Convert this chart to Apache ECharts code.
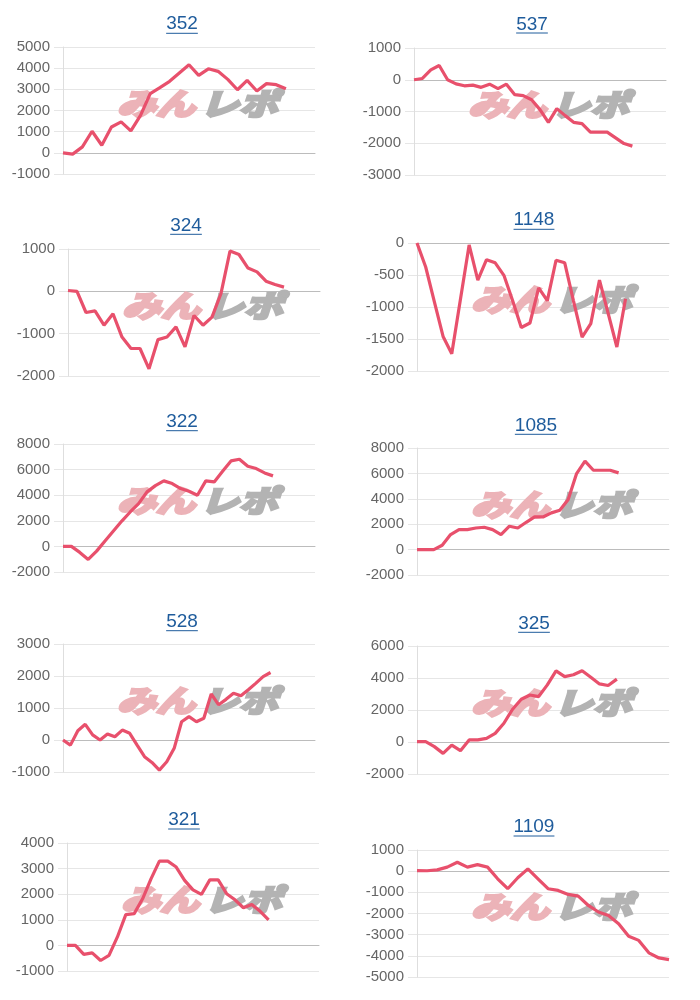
<!DOCTYPE html>
<html><head><meta charset="utf-8">
<script src="https://cdn.jsdelivr.net/npm/echarts@6/dist/echarts.min.js"></script>
<style>html,body{margin:0;padding:0;background:#fff}#c{width:700px;height:1000px}</style>
</head><body><div id="c"></div>
<script>
// ---- data ----
const titles = ['352','537','324','1148','322','1085','528','325','321','1109'];
const catCounts = [27,31,29,30,31,31,35,30,31,26];
const s352  = [0,-60,280,1020,360,1220,1460,1040,1770,2800,3080,3380,3770,4160,3660,3970,3850,3470,2980,3420,2920,3270,3220,3030];
const s537  = [0,40,310,450,0,-130,-190,-170,-240,-140,-280,-140,-470,-500,-630,-940,-1340,-910,-1130,-1340,-1380,-1650,-1650,-1650,-1830,-2010,-2090];
const s324  = [20,0,-500,-460,-800,-530,-1080,-1350,-1350,-1830,-1140,-1080,-840,-1310,-570,-800,-610,-50,950,870,550,460,240,160,100];
const s1148 = [0,-375,-920,-1460,-1730,-880,-30,-580,-260,-310,-505,-900,-1320,-1250,-700,-900,-270,-310,-900,-1470,-1260,-580,-1100,-1625,-870];
const s322  = [0,0,-470,-1020,-370,420,1200,1980,2690,3340,4260,4750,5120,4910,4520,4310,4000,5120,5040,5870,6680,6810,6260,6080,5740,5510];
const s1085 = [0,0,0,340,1180,1575,1575,1700,1760,1575,1180,1840,1700,2150,2570,2570,2890,3100,3940,5990,6960,6250,6250,6250,6040];
const s528  = [0,-160,290,490,160,0,190,100,310,210,-160,-520,-700,-940,-680,-260,570,730,570,680,1440,1100,1270,1460,1380,1570,1770,1980,2110];
const s325  = [20,20,-290,-710,-190,-540,130,130,230,540,1170,2050,2670,2940,2840,3570,4450,4090,4200,4450,4050,3630,3530,3930];
const s321  = [0,0,-350,-290,-590,-390,330,1200,1240,1820,2600,3290,3290,3060,2540,2170,1990,2560,2560,2020,1780,1470,1600,1330,1000];
const s1109 = [30,20,60,190,420,190,310,190,-360,-830,-310,110,-360,-830,-910,-1100,-1180,-1620,-1930,-2090,-2480,-3080,-3270,-3860,-4100,-4180];
const seriesData = [s352,s537,s324,s1148,s322,s1085,s528,s325,s321,s1109];
const yMin  = [-1000,-3000,-2000,-2000,-2000,-2000,-1000,-2000,-1000,-5000];
const yMax  = [5000,1000,1000,0,8000,8000,3000,6000,4000,1000];
const yStep = [1000,1000,1000,500,2000,2000,1000,2000,1000,1000];
const watermarkA = 'みん';
const watermarkB = 'レポ';

// ---- layout ----
const gridLeft = [63,414,68,417,63,417,63,417,67,417];
const gridTop  = [47,48,249,243,444,448,644,646,843,850];
const gridH    = [127,127,127,128,128,127,128,128,128,127];
const gridW = 252;
const titleCX = [182,532,186,534,182,536,182,534,184,534];
const titleCY = [24,24.5,225.7,220,422,425.8,622,623.3,820,827];
const underY  = [33.3,33,234.3,229.3,430.7,434.3,630.7,632.3,829,836];

const FONT = '"Liberation Sans", Arial, sans-serif';
const LINE_COLOR = '#e8506c';
const TITLE_COLOR = '#1f5c9c';

const cv = document.createElement('canvas').getContext('2d');
cv.font = '19px ' + FONT;

const grid = [], xAxis = [], yAxis = [], series = [], graphic = [];
for (let i = 0; i < 10; i++) {
  grid.push({left: gridLeft[i], top: gridTop[i], width: gridW, height: gridH[i], containLabel: false});
  const cats = [];
  for (let k = 0; k < catCounts[i]; k++) cats.push(String(k + 1));
  xAxis.push({
    gridIndex: i, type: 'category', data: cats, boundaryGap: false,
    axisLabel: {show: false}, axisTick: {show: false}, splitLine: {show: false},
    axisLine: {show: true, onZero: true, lineStyle: {color: '#bcbcbc', width: 1}}
  });
  yAxis.push({
    gridIndex: i, type: 'value', min: yMin[i], max: yMax[i], interval: yStep[i],
    axisLine: {show: true, lineStyle: {color: '#dedede', width: 1}},
    axisTick: {show: true, length: 9, lineStyle: {color: '#e6e6e6'}},
    axisLabel: {color: '#666', fontSize: 15, margin: 13, fontFamily: FONT,
                formatter: v => String(v)},
    splitLine: {show: true, lineStyle: {color: '#e6e6e6', width: 1}}
  });
  series.push({
    type: 'line', xAxisIndex: i, yAxisIndex: i, data: seriesData[i],
    showSymbol: false, symbol: 'none', smooth: false, z: 10,
    lineStyle: {color: LINE_COLOR, width: 3.2}, itemStyle: {color: LINE_COLOR}
  });
  // title + underline
  const tw = cv.measureText(titles[i]).width;
  graphic.push({
    type: 'text', x: titleCX[i], y: titleCY[i], z: 20,
    style: {text: titles[i], fill: TITLE_COLOR, fontSize: 19, fontFamily: FONT,
            align: 'center', verticalAlign: 'middle'}
  });
  graphic.push({
    type: 'line', z: 20,
    shape: {x1: titleCX[i] - tw / 2, y1: underY[i], x2: titleCX[i] + tw / 2, y2: underY[i]},
    style: {stroke: TITLE_COLOR, lineWidth: 1}
  });
  // watermark
  const cx = gridLeft[i] + gridW / 2 + 9;
  const cy = gridTop[i] + gridH[i] / 2 - 7;
  graphic.push({
    type: 'text', x: cx - 3, y: cy, scaleX: 1.3, z: 1,
    style: {text: watermarkA, fill: '#ecb3b8', stroke: '#ecb3b8', lineWidth: 3,
            fontSize: 30, fontWeight: 'bold', fontStyle: 'italic',
            fontFamily: '"Noto Sans CJK JP", sans-serif', align: 'right', verticalAlign: 'middle'}
  });
  graphic.push({
    type: 'text', x: cx + 2, y: cy, scaleX: 1.3, z: 1,
    style: {text: watermarkB, fill: '#b3b3b3', stroke: '#b3b3b3', lineWidth: 3,
            fontSize: 30, fontWeight: 'bold', fontStyle: 'italic',
            fontFamily: '"Noto Sans CJK JP", sans-serif', align: 'left', verticalAlign: 'middle'}
  });
}

const chart = echarts.init(document.getElementById('c'), null, {renderer: 'canvas'});
chart.setOption({animation: false, backgroundColor: '#fff', grid, xAxis, yAxis, series, graphic});
</script>
</body></html>
